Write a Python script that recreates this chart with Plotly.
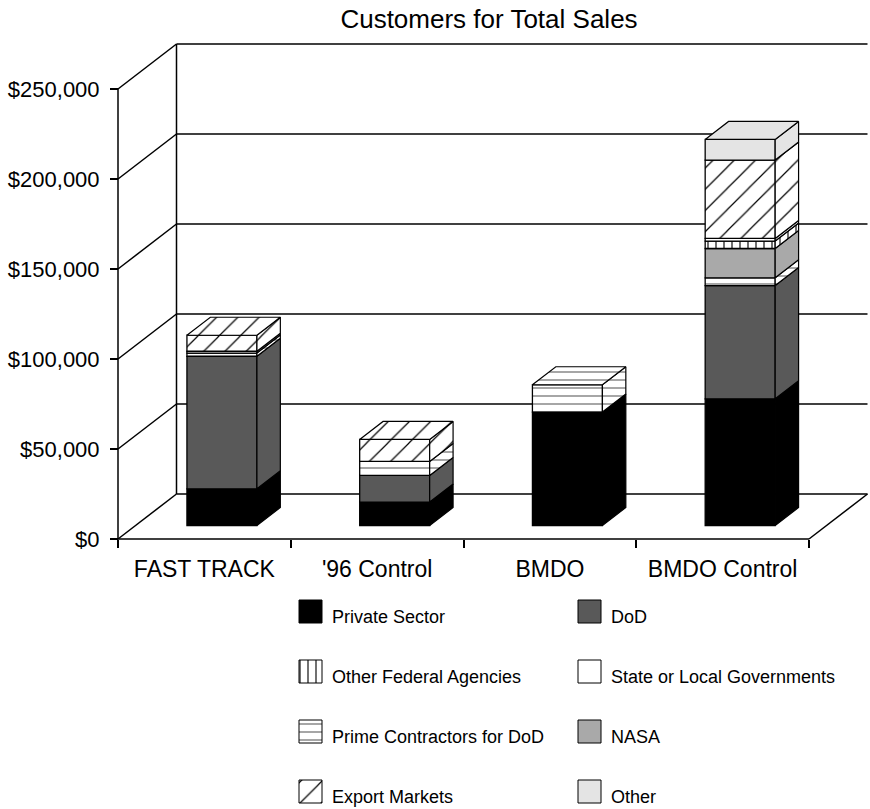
import plotly.graph_objects as go

# ---------------- data ----------------
categories = ["FAST TRACK", "'96 Control", "BMDO", "BMDO Control"]

private_sector = [20400, 13000, 63000, 70400]
dod = [73600, 14800, 0, 62900]
prime_contractors = [1800, 7800, 15200, 4300]
nasa = [0, 0, 0, 16300]
other_federal = [0, 0, 0, 4100]
state_local = [1000, 0, 0, 1500]
export_markets = [8900, 12200, 0, 43500]
other = [0, 0, 0, 11500]

y_ticks = [0, 50000, 100000, 150000, 200000, 250000]
y_tick_labels = ["$" + format(v, ",d") for v in y_ticks]

# stacking order, bottom to top
stack = [
    ("Private Sector", private_sector),
    ("DoD", dod),
    ("Prime Contractors for DoD", prime_contractors),
    ("NASA", nasa),
    ("Other Federal Agencies", other_federal),
    ("State or Local Governments", state_local),
    ("Export Markets", export_markets),
    ("Other", other),
]

# fill styles per series
styles = {
    "Private Sector": dict(color="#000000"),
    "DoD": dict(color="#595959"),
    "Prime Contractors for DoD": dict(color="#ffffff", shape="-", size=8, solidity=0.12, fg="#444444"),
    "NASA": dict(color="#a9a9a9"),
    "Other Federal Agencies": dict(color="#ffffff", shape="|", size=8, solidity=0.14, fg="#000000"),
    "State or Local Governments": dict(color="#ffffff"),
    "Export Markets": dict(color="#ffffff", shape="/", size=15, solidity=0.08, fg="#000000"),
    "Other": dict(color="#e4e4e4"),
}

# legend grid (column, row)
legend_cells = [
    ("Private Sector", 0, 0), ("DoD", 1, 0),
    ("Other Federal Agencies", 0, 1), ("State or Local Governments", 1, 1),
    ("Prime Contractors for DoD", 0, 2), ("NASA", 1, 2),
    ("Export Markets", 0, 3), ("Other", 1, 3),
]

# ---------------- geometry ----------------
W, H = 870, 809
FONT = "Liberation Sans, Arial, Helvetica, sans-serif"
LEFT_PX, RIGHT_PX, BOTTOM_PX, TOP_PX = 118, 870, 539, 40
PX_PER_CAT = 172.75
PX_PER_DOLLAR = 1.8 / 1000
PAD = 6

DEPTH_X = 58.5 / PX_PER_CAT          # oblique depth of the floor, category units
DEPTH_Y = 45 / PX_PER_DOLLAR         # oblique depth of the floor, dollar units
BAR_W = 70 / PX_PER_CAT
BAR_FRONT, BAR_BACK = 0.3, 0.7       # bar position inside the depth
BDX = (BAR_BACK - BAR_FRONT) * DEPTH_X
BDY = (BAR_BACK - BAR_FRONT) * DEPTH_Y
FRONT_X0 = BAR_FRONT * DEPTH_X
FRONT_Y0 = BAR_FRONT * DEPTH_Y
N = len(categories)
Y_TOP = max(y_ticks)


def pattern_of(st):
    if "shape" in st:
        return dict(shape=st["shape"], size=st["size"], solidity=st["solidity"],
                    fgcolor=st["fg"], bgcolor=st["color"], fillmode="replace")
    return None


def fill_kw(st):
    kw = dict(fillcolor=st["color"])
    pat = pattern_of(st)
    if pat:
        kw["fillpattern"] = pat
    return kw


fig = go.Figure()

centers = [i + 0.5 + FRONT_X0 for i in range(N)]
cum = [0.0] * N
top_series = [None] * N
side_paths = {}

for name, vals in stack:
    st = styles[name]
    bases, heights = [], []
    xs, ys = [], []
    for i, v in enumerate(vals):
        b = FRONT_Y0 + cum[i]
        if v > 0:
            bases.append(b)
            heights.append(v)
            x1 = centers[i] + BAR_W / 2
            xs += [x1, x1 + BDX, x1 + BDX, x1, x1, None]
            ys += [b, b + BDY, b + v + BDY, b + v, b, None]
            top_series[i] = name
        else:
            bases.append(None)
            heights.append(None)
        cum[i] += v
    bar_marker = dict(color=st["color"], line=dict(color="#000000", width=1.3))
    pat = pattern_of(st)
    if pat:
        bar_marker["pattern"] = pat
    # front faces
    fig.add_trace(go.Bar(
        x=centers, y=heights, base=bases, width=BAR_W, name=name,
        marker=bar_marker, showlegend=False, xaxis="x", yaxis="y",
        hovertemplate=name + ": $%{y:,.0f}<extra></extra>",
    ))
    side_paths[name] = (xs, ys)

# side faces
for name, _ in stack:
    xs, ys = side_paths[name]
    if not xs:
        continue
    fig.add_trace(go.Scatter(
        x=xs, y=ys, mode="lines", fill="toself",
        line=dict(color="#000000", width=1.2), showlegend=False,
        hoverinfo="skip", xaxis="x", yaxis="y", **fill_kw(styles[name]),
    ))

# top faces
for i in range(N):
    name = top_series[i]
    t = FRONT_Y0 + cum[i]
    x0 = centers[i] - BAR_W / 2
    x1 = centers[i] + BAR_W / 2
    fig.add_trace(go.Scatter(
        x=[x0, x1, x1 + BDX, x0 + BDX, x0],
        y=[t, t, t + BDY, t + BDY, t],
        mode="lines", fill="toself",
        line=dict(color="#000000", width=1.2), showlegend=False,
        hoverinfo="skip", xaxis="x", yaxis="y", **fill_kw(styles[name]),
    ))

# ---------------- walls, floor and gridlines ----------------
shapes = []
LINE = dict(color="#000000", width=1.5)


def seg(x0, y0, x1, y1):
    shapes.append(dict(type="line", xref="x", yref="y", x0=x0, y0=y0,
                       x1=x1, y1=y1, line=LINE, layer="below"))


seg(0, 0, 0, Y_TOP)                              # value axis
seg(0, 0, N, 0)                                  # category axis
seg(N, 0, N + DEPTH_X, DEPTH_Y)                  # right floor edge
seg(DEPTH_X, DEPTH_Y, DEPTH_X, Y_TOP + DEPTH_Y)  # back wall corner
for v in y_ticks:
    seg(0, v, DEPTH_X, v + DEPTH_Y)                      # side wall gridline
    seg(DEPTH_X, v + DEPTH_Y, N + DEPTH_X, v + DEPTH_Y)  # back wall gridline

# ---------------- legend ----------------
COL_X = [299, 578]
ROW_Y = [600, 660, 720, 780]
SW = 23
annotations = []
for name, c, r in legend_cells:
    x0, y0 = COL_X[c], ROW_Y[r]
    fig.add_trace(go.Scatter(
        x=[x0, x0 + SW, x0 + SW, x0, x0],
        y=[y0, y0, y0 + SW, y0 + SW, y0],
        mode="lines", fill="toself", line=dict(color="#000000", width=1),
        showlegend=False, hoverinfo="skip", xaxis="x2", yaxis="y2",
        **fill_kw(styles[name]),
    ))
    annotations.append(dict(
        x=x0 + 31, y=y0 + 17, xref="x2", yref="y2", text=name,
        showarrow=False, xanchor="left", yanchor="middle",
        font=dict(family=FONT, size=18, color="#000000"),
    ))

fig.update_layout(
    width=W, height=H, autosize=False,
    margin=dict(l=0, r=0, t=0, b=0),
    paper_bgcolor="#ffffff", plot_bgcolor="rgba(0,0,0,0)",
    barmode="overlay",
    font=dict(family=FONT, color="#000000"),
    title=dict(text="Customers for Total Sales", x=489 / W, xanchor="center",
               y=1 - 19 / H, yanchor="middle",
               font=dict(family=FONT, size=26, color="#000000")),
    showlegend=False,
    shapes=shapes,
    annotations=annotations,
    xaxis=dict(
        domain=[(LEFT_PX - PAD) / W, 1],
        range=[-PAD / PX_PER_CAT, (RIGHT_PX - LEFT_PX) / PX_PER_CAT],
        anchor="free", position=(H - BOTTOM_PX) / H,
        tickvals=[i + 0.5 for i in range(N)], ticktext=categories,
        ticks="", ticklabelstandoff=14,
        showline=False, showgrid=False, zeroline=False,
        tickfont=dict(family=FONT, size=23, color="#000000"),
        minor=dict(tickvals=list(range(N + 1)), ticks="outside", ticklen=8,
                   tickwidth=1.5, tickcolor="#000000", showgrid=False),
        automargin=False, fixedrange=True,
    ),
    yaxis=dict(
        domain=[(H - BOTTOM_PX - PAD) / H, (H - TOP_PX) / H],
        range=[-PAD / PX_PER_DOLLAR, (BOTTOM_PX - TOP_PX) / PX_PER_DOLLAR],
        anchor="free", position=LEFT_PX / W,
        tickvals=y_ticks, ticktext=y_tick_labels,
        ticks="outside", ticklen=8, tickwidth=1.5, tickcolor="#000000",
        ticklabelstandoff=6,
        showline=False, showgrid=False, zeroline=False,
        tickfont=dict(family=FONT, size=22, color="#000000"),
        automargin=False, fixedrange=True,
    ),
    xaxis2=dict(domain=[0, 1], range=[0, W], visible=False, anchor="y2",
                fixedrange=True),
    yaxis2=dict(domain=[0, 1], range=[H, 0], visible=False, anchor="x2",
                fixedrange=True),
)

fig.write_html("out.html")
